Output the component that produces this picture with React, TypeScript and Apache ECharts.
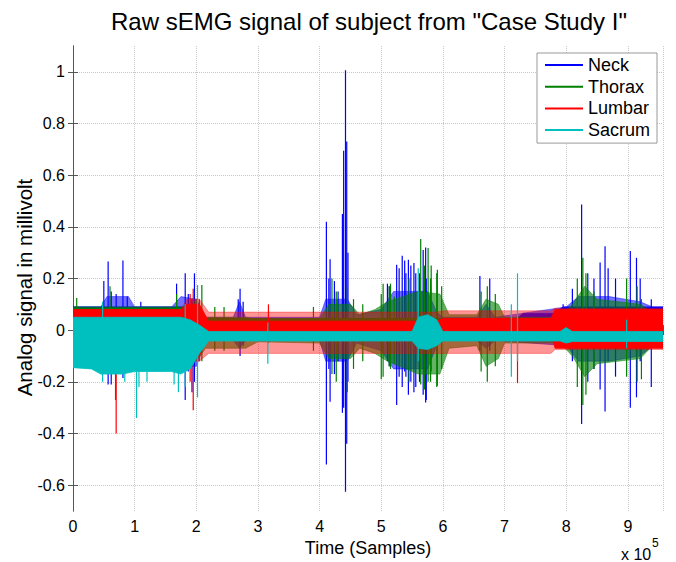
import React, { useEffect, useRef } from 'react';
import * as echarts from 'echarts';

// Axis ticks (x in units of 10^5 samples, y in millivolt)
const xTicks = [0, 1, 2, 3, 4, 5, 6, 7, 8, 9];
const yTicks = [-0.6, -0.4, -0.2, 0, 0.2, 0.4, 0.6, 0.8, 1];

// ---- Neck (blue) ----
// dense core envelope
const neckCoreX = [0, 1.9, 2.15, 7.2, 7.3, 7.8, 7.95, 9.57];
const neckCoreHi = [0.09, 0.09, 0.045, 0.045, 0.065, 0.065, 0.09, 0.09];
const neckCoreLo = [-0.1, -0.1, -0.04, -0.04, -0.04, -0.04, -0.06, -0.06];
// burst envelope (sparser activity)
const neckBurstX = [0, 0.45, 0.55, 0.9, 1.0, 1.6, 1.75, 2.0, 2.15, 2.6, 2.7, 2.8, 4.0, 4.1, 4.45, 4.6, 5.0, 5.2, 5.75, 5.9, 6.0, 6.55, 6.7, 6.85, 8.0, 8.2, 8.7, 9.2, 9.4, 9.57];
const neckBurstHi = [0.09, 0.09, 0.13, 0.13, 0.09, 0.09, 0.13, 0.12, 0.05, 0.05, 0.11, 0.05, 0.05, 0.12, 0.12, 0.06, 0.08, 0.15, 0.15, 0.07, 0.05, 0.05, 0.1, 0.05, 0.09, 0.13, 0.13, 0.11, 0.09, 0.09];
const neckBurstLo = [-0.1, -0.1, -0.13, -0.13, -0.1, -0.1, -0.14, -0.14, -0.04, -0.04, -0.07, -0.04, -0.04, -0.12, -0.12, -0.05, -0.08, -0.15, -0.15, -0.06, -0.04, -0.04, -0.07, -0.04, -0.06, -0.12, -0.12, -0.1, -0.06, -0.06];
// single large excursions: x, bottom, top
const neckSpikeX = [0.50, 0.57, 0.62, 0.70, 0.81, 0.88, 1.10, 1.68, 1.82, 1.87, 1.93, 1.97, 2.68, 2.71, 2.76, 4.11, 4.15, 4.17, 4.24, 4.30, 4.37, 4.39, 4.42, 4.44, 4.46, 5.10, 5.13, 5.25, 5.29, 5.34, 5.38, 5.40, 5.44, 5.48, 5.53, 5.56, 5.62, 5.68, 5.72, 5.73, 5.80, 6.60, 6.76, 7.95, 8.10, 8.25, 8.35, 8.45, 8.55, 8.63, 8.68, 8.80, 9.04, 9.14, 9.20, 9.38];
const neckSpikeLo = [-0.08, -0.21, -0.21, -0.10, -0.185, -0.10, -0.10, -0.10, -0.27, -0.16, -0.24, -0.20, -0.04, -0.10, -0.06, -0.52, -0.15, -0.277, -0.17, -0.12, -0.32, -0.30, -0.625, -0.44, -0.20, -0.12, -0.14, -0.29, -0.18, -0.22, -0.16, -0.18, -0.25, -0.20, -0.24, -0.22, -0.20, -0.25, -0.28, -0.27, -0.15, -0.08, -0.08, -0.06, -0.12, -0.363, -0.20, -0.15, -0.23, -0.315, -0.12, -0.18, -0.30, -0.26, -0.12, -0.22];
const neckSpikeHi = [0.19, 0.266, 0.15, 0.14, 0.27, 0.13, 0.11, 0.18, 0.22, 0.14, 0.12, 0.22, 0.12, 0.16, 0.11, 0.42, 0.20, 0.275, 0.19, 0.15, 0.45, 0.695, 1.006, 0.73, 0.30, 0.18, 0.17, 0.253, 0.24, 0.288, 0.27, 0.22, 0.273, 0.25, 0.26, 0.22, 0.22, 0.31, 0.32, 0.20, 0.17, 0.21, 0.20, 0.10, 0.16, 0.486, 0.22, 0.20, 0.262, 0.325, 0.24, 0.20, 0.306, 0.28, 0.20, 0.12];

// ---- Thorax (green) ----
const thoraxCoreX = [0, 1.9, 2.0, 2.15, 9.57];
const thoraxCoreHi = [0.085, 0.085, 0.1, 0.045, 0.045];
const thoraxCoreLo = [-0.1, -0.1, -0.1, -0.04, -0.04];
const thoraxBurstX = [0, 1.9, 2.0, 2.15, 2.8, 3.0, 4.0, 4.15, 4.5, 4.65, 4.9, 5.1, 5.6, 5.95, 6.1, 6.55, 6.7, 6.9, 7.0, 7.9, 8.1, 8.3, 8.5, 9.2, 9.4, 9.57];
const thoraxBurstHi = [0.09, 0.09, 0.12, 0.05, 0.05, 0.04, 0.045, 0.1, 0.1, 0.06, 0.08, 0.11, 0.15, 0.14, 0.06, 0.06, 0.12, 0.1, 0.05, 0.05, 0.1, 0.17, 0.12, 0.1, 0.07, 0.07];
const thoraxBurstLo = [-0.1, -0.1, -0.12, -0.07, -0.07, -0.045, -0.05, -0.11, -0.11, -0.07, -0.09, -0.12, -0.17, -0.17, -0.07, -0.06, -0.14, -0.11, -0.05, -0.05, -0.1, -0.18, -0.13, -0.11, -0.06, -0.06];
const thoraxSpikeX = [0.06, 0.60, 1.68, 2.09, 2.30, 2.45, 3.90, 4.20, 4.27, 4.45, 4.55, 4.70, 5.00, 5.03, 5.13, 5.15, 5.21, 5.45, 5.64, 5.70, 5.76, 5.80, 5.81, 5.90, 5.91, 5.98, 6.62, 6.72, 6.85, 8.18, 8.27, 8.32, 8.45, 8.98, 9.15, 9.22];
const thoraxSpikeLo = [-0.05, -0.10, -0.10, -0.12, -0.08, -0.08, -0.08, -0.17, -0.20, -0.24, -0.15, -0.12, -0.19, -0.18, -0.14, -0.15, -0.13, -0.20, -0.21, -0.23, -0.20, -0.20, -0.16, -0.22, -0.215, -0.15, -0.16, -0.20, -0.14, -0.22, -0.29, -0.25, -0.15, -0.18, -0.20, -0.19];
const thoraxSpikeHi = [0.125, 0.17, 0.14, 0.175, 0.09, 0.09, 0.09, 0.20, 0.15, 0.17, 0.12, 0.10, 0.14, 0.18, 0.17, 0.18, 0.13, 0.20, 0.353, 0.25, 0.318, 0.20, 0.25, 0.22, 0.234, 0.17, 0.15, 0.17, 0.14, 0.20, 0.28, 0.22, 0.15, 0.20, 0.17, 0.12];

// ---- Lumbar (red) ----
const lumbarCoreX = [0, 1.75, 1.85, 2.05, 2.2, 5.9, 6.0, 7.75, 7.82, 9.57];
const lumbarCoreHi = [0.08, 0.08, 0.1, 0.1, 0.035, 0.035, 0.045, 0.045, 0.08, 0.08];
const lumbarCoreLo = [-0.06, -0.06, -0.1, -0.1, -0.012, -0.012, -0.012, -0.012, -0.07, -0.07];
// lighter periodic outer band
const lumbarOuterX = [0, 1.75, 1.85, 2.05, 2.2, 5.9, 6.0, 7.75, 7.82, 9.57];
const lumbarOuterHi = [0.08, 0.08, 0.12, 0.12, 0.07, 0.07, 0.075, 0.075, 0.085, 0.085];
const lumbarOuterLo = [-0.06, -0.06, -0.12, -0.12, -0.09, -0.09, -0.09, -0.09, -0.075, -0.075];
const lumbarSpikeX = [0.69, 0.70, 1.90, 1.95, 2.05, 3.17, 7.21];
const lumbarSpikeLo = [-0.27, -0.40, -0.20, -0.31, -0.12, -0.05, -0.205];
const lumbarSpikeHi = [0.08, 0.08, 0.14, 0.16, 0.12, 0.10, 0.06];

// ---- Sacrum (cyan) ----
const sacrumX = [0, 0.3, 0.45, 0.8, 1.0, 1.6, 1.75, 1.9, 2.05, 2.2, 5.5, 5.6, 5.75, 5.9, 6.0, 7.9, 8.0, 8.1, 9.57];
const sacrumHi = [0.05, 0.05, 0.05, 0.05, 0.05, 0.05, 0.05, 0.04, 0.02, -0.005, -0.005, 0.05, 0.06, 0.04, -0.005, -0.005, 0.01, -0.005, -0.005];
const sacrumLo = [-0.145, -0.15, -0.17, -0.17, -0.16, -0.16, -0.17, -0.15, -0.09, -0.042, -0.042, -0.07, -0.075, -0.06, -0.042, -0.042, -0.05, -0.044, -0.044];
const sacrumSpikeX = [0.48, 0.84, 1.03, 1.07, 1.20, 1.64, 1.71, 1.82, 2.02, 3.16, 5.60, 7.11, 7.21, 8.98];
const sacrumSpikeLo = [-0.20, -0.20, -0.34, -0.22, -0.20, -0.21, -0.24, -0.22, -0.26, -0.13, -0.12, -0.18, -0.12, -0.07];
const sacrumSpikeHi = [0.11, 0.05, 0.05, 0.05, 0.05, 0.05, 0.05, 0.10, 0.175, 0.03, 0.24, 0.10, 0.22, 0.04];

const FONT = '"Liberation Sans", Arial, Helvetica, sans-serif';
const BLUE = '#0000ff';
const GREEN = '#008000';
const RED = '#ff0000';
const CYAN = '#00bfbf';

function bandSeries(name: string, color: string, fill: string, xs: number[], lo: number[], hi: number[]) {
  return {
    type: 'custom',
    name,
    clip: true,
    itemStyle: { color },
    encode: { x: 0, y: [1, 2] },
    data: xs.map((x, i) => [x, lo[i], hi[i]]),
    renderItem: (params: any, api: any) => {
      if (params.dataIndex !== 0) return null;
      const upper = xs.map((x, i) => api.coord([x, hi[i]]));
      const lower = xs.map((x, i) => api.coord([x, lo[i]])).reverse();
      return {
        type: 'polygon',
        shape: { points: upper.concat(lower) },
        style: { fill, stroke: fill, lineWidth: 0.8 },
      };
    },
  };
}

function spikeSeries(name: string, color: string, xs: number[], lo: number[], hi: number[]) {
  return {
    type: 'custom',
    name,
    clip: true,
    itemStyle: { color },
    encode: { x: 0, y: [1, 2] },
    data: xs.map((x, i) => [x, lo[i], hi[i]]),
    renderItem: (params: any, api: any) => {
      const p0 = api.coord([api.value(0), api.value(1)]);
      const p1 = api.coord([api.value(0), api.value(2)]);
      return {
        type: 'line',
        shape: { x1: p0[0], y1: p0[1], x2: p1[0], y2: p1[1] },
        style: { stroke: color, lineWidth: 1.2 },
      };
    },
  };
}

export default function App() {
  const ref = useRef<HTMLDivElement>(null);
  useEffect(() => {
    if (!ref.current) return;
    const chart = echarts.init(ref.current, undefined, { renderer: 'svg' });
    const gridLine = { show: true, lineStyle: { color: '#c8c8c8', type: 'dotted', width: 1 } };
    const axisLine = { show: true, lineStyle: { color: '#555', width: 1 } };
    const tick = { show: true, inside: true, length: 5, lineStyle: { color: '#555' } };
    chart.setOption({
      animation: false,
      backgroundColor: '#ffffff',
      title: {
        text: 'Raw sEMG signal of subject from "Case Study I"',
        left: 106,
        top: 4,
        textStyle: { fontSize: 24, fontWeight: 'normal', color: '#000', fontFamily: FONT },
      },
      grid: { left: 73, right: 13, top: 46, bottom: 51, containLabel: false },
      legend: {
        orient: 'vertical',
        left: 537,
        top: 53,
        padding: [3, 7, 4, 8],
        itemGap: 3.7,
        itemWidth: 38,
        itemHeight: 2,
        backgroundColor: '#ffffff',
        borderColor: '#999',
        borderWidth: 1,
        borderRadius: 0,
        textStyle: { fontSize: 18, lineHeight: 18, color: '#000', fontFamily: FONT },
        data: [
          { name: 'Neck', icon: 'rect' },
          { name: 'Thorax', icon: 'rect' },
          { name: 'Lumbar', icon: 'rect' },
          { name: 'Sacrum', icon: 'rect' },
        ],
      },
      xAxis: [
        {
          type: 'value',
          min: 0,
          max: 9.57,
          interval: 1,
          position: 'bottom',
          name: 'Time (Samples)',
          nameLocation: 'middle',
          nameGap: 25,
          nameTextStyle: { fontSize: 18, color: '#000', fontFamily: FONT },
          axisLine,
          axisTick: tick,
          axisLabel: {
            fontSize: 16,
            color: '#000',
            fontFamily: FONT,
            margin: 7,
            formatter: (v: number) => (xTicks.includes(Math.round(v * 1000) / 1000) ? String(v) : ''),
          },
          splitLine: gridLine,
        },
        {
          type: 'value',
          min: 0,
          max: 9.57,
          interval: 1,
          position: 'top',
          axisLine,
          axisTick: tick,
          axisLabel: { show: false },
          splitLine: { show: false },
        },
      ],
      yAxis: [
        {
          type: 'value',
          min: -0.7,
          max: 1.1,
          splitNumber: 9,
          position: 'left',
          axisLine,
          axisTick: { ...tick, customValues: yTicks },
          axisLabel: {
            fontSize: 16,
            color: '#000',
            fontFamily: FONT,
            margin: 8,
            customValues: yTicks,
            formatter: (v: number) => String(Math.round(v * 10) / 10),
          },
          splitLine: gridLine,
        },
        {
          type: 'value',
          min: -0.7,
          max: 1.1,
          splitNumber: 9,
          position: 'right',
          axisLine,
          axisTick: { ...tick, customValues: yTicks },
          axisLabel: { show: false },
          splitLine: { show: false },
        },
      ],
      graphic: [
        {
          type: 'text',
          x: 24,
          y: 287.5,
          rotation: Math.PI / 2,
          style: {
            text: 'Analog signal in millivolt',
            font: `20.5px ${FONT}`,
            fill: '#000',
            textAlign: 'center',
            textVerticalAlign: 'middle',
          },
        },
        {
          type: 'text',
          x: 621,
          y: 554,
          style: { text: 'x 10', font: `16px ${FONT}`, fill: '#000', textAlign: 'left', textVerticalAlign: 'middle' },
        },
        {
          type: 'text',
          x: 652,
          y: 543,
          style: { text: '5', font: `12px ${FONT}`, fill: '#000', textAlign: 'left', textVerticalAlign: 'middle' },
        },
      ],
      series: [
        bandSeries('Neck', BLUE, 'rgba(0,0,255,0.55)', neckBurstX, neckBurstLo, neckBurstHi),
        bandSeries('Neck', BLUE, BLUE, neckCoreX, neckCoreLo, neckCoreHi),
        spikeSeries('Neck', BLUE, neckSpikeX, neckSpikeLo, neckSpikeHi),
        bandSeries('Thorax', GREEN, 'rgba(0,128,0,0.6)', thoraxBurstX, thoraxBurstLo, thoraxBurstHi),
        bandSeries('Thorax', GREEN, GREEN, thoraxCoreX, thoraxCoreLo, thoraxCoreHi),
        spikeSeries('Thorax', GREEN, thoraxSpikeX, thoraxSpikeLo, thoraxSpikeHi),
        bandSeries('Lumbar', RED, 'rgba(255,0,0,0.42)', lumbarOuterX, lumbarOuterLo, lumbarOuterHi),
        bandSeries('Lumbar', RED, RED, lumbarCoreX, lumbarCoreLo, lumbarCoreHi),
        spikeSeries('Lumbar', RED, lumbarSpikeX, lumbarSpikeLo, lumbarSpikeHi),
        bandSeries('Sacrum', CYAN, CYAN, sacrumX, sacrumLo, sacrumHi),
        spikeSeries('Sacrum', CYAN, sacrumSpikeX, sacrumSpikeLo, sacrumSpikeHi),
      ],
    });
    return () => chart.dispose();
  }, []);
  return (
    <div
      ref={ref}
      style={{ position: 'fixed', left: 0, top: 0, width: 676, height: 562, background: '#fff' }}
    />
  );
}
